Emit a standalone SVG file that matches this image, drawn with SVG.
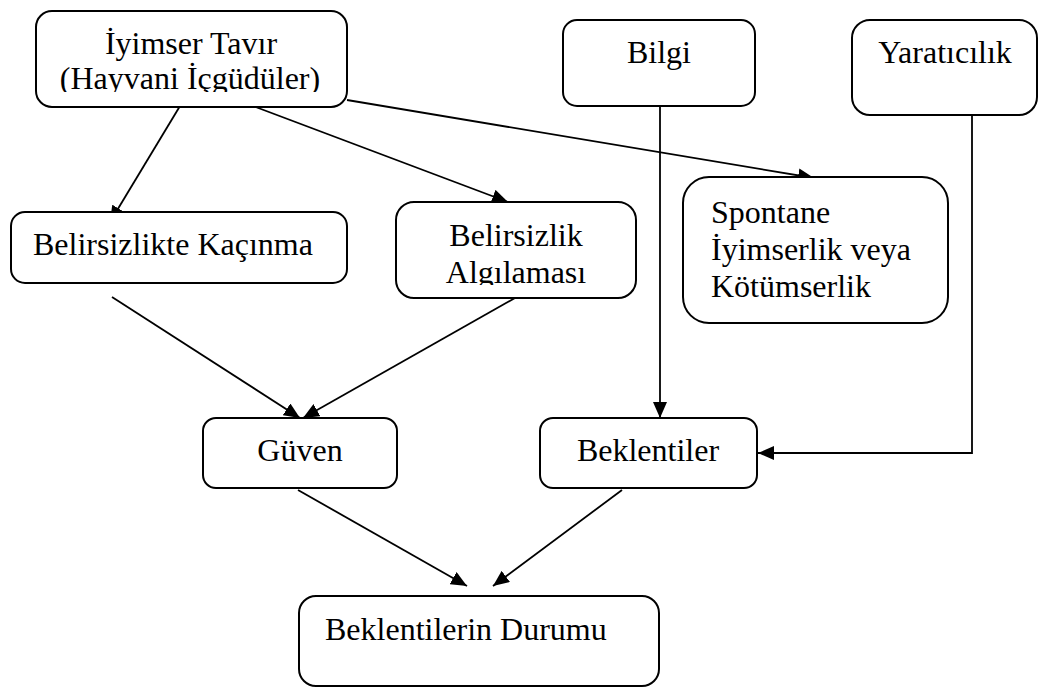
<svg xmlns="http://www.w3.org/2000/svg" width="1041" height="689" viewBox="0 0 1041 689">
<style>
.box{fill:#fff;stroke:#000;stroke-width:2}
.lbl{font-family:"Liberation Serif","Times New Roman",serif;font-size:32px;fill:#000}
.mid{text-anchor:middle}
.con{fill:none;stroke:#000;stroke-width:1.8}
</style>
<defs>
<marker id="ah" markerUnits="userSpaceOnUse" markerWidth="16" markerHeight="14" refX="16" refY="7" orient="auto" viewBox="0 0 16 14">
<path d="M0,0 L16,7 L0,14 z" fill="#000"/>
</marker>
<clipPath id="c1"><rect x="30" y="0" width="330" height="92"/></clipPath>
<clipPath id="c2"><rect x="390" y="200" width="260" height="85"/></clipPath>
</defs>
<rect width="1041" height="689" fill="#fff"/>
<g id="connectors">
<line class="con" x1="180" y1="106" x2="110" y2="222" marker-end="url(#ah)"/>
<line class="con" x1="253" y1="106" x2="508" y2="202" marker-end="url(#ah)"/>
<line class="con" x1="347" y1="100" x2="814" y2="178" marker-end="url(#ah)"/>
<line class="con" x1="660" y1="106" x2="660" y2="418" marker-end="url(#ah)"/>
<polyline class="con" points="972,115 972,453 758,453" marker-end="url(#ah)"/>
<line class="con" x1="112" y1="297" x2="300" y2="418" marker-end="url(#ah)"/>
<line class="con" x1="515" y1="298" x2="303" y2="418" marker-end="url(#ah)"/>
<line class="con" x1="298" y1="490" x2="467" y2="586" marker-end="url(#ah)"/>
<line class="con" x1="622" y1="490" x2="493" y2="586" marker-end="url(#ah)"/>
</g>
<g id="n-iyimser">
<rect class="box" x="36" y="11" width="311" height="96" rx="16"/>
<g clip-path="url(#c1)">
<text class="lbl mid" x="191" y="54">İyimser Tavır</text>
<text class="lbl mid" x="190" y="89">(Hayvani İçgüdüler)</text>
</g>
</g>
<g id="n-bilgi">
<rect class="box" x="563" y="20" width="192" height="86" rx="14"/>
<text class="lbl mid" x="659" y="63">Bilgi</text>
</g>
<g id="n-yaraticilik">
<rect class="box" x="852" y="20" width="185" height="95" rx="18"/>
<text class="lbl mid" x="945" y="63">Yaratıcılık</text>
</g>
<g id="n-kacinma">
<rect class="box" x="11" y="212" width="336" height="71" rx="14"/>
<text class="lbl" x="33" y="255">Belirsizlikte Kaçınma</text>
</g>
<g id="n-algilama">
<rect class="box" x="396" y="202" width="240" height="96" rx="18"/>
<g clip-path="url(#c2)">
<text class="lbl mid" x="516" y="246">Belirsizlik</text>
<text class="lbl mid" x="516" y="283">Algılaması</text>
</g>
</g>
<g id="n-spontane">
<rect class="box" x="683" y="177" width="265" height="146" rx="26"/>
<text class="lbl" x="711" y="223">Spontane</text>
<text class="lbl" x="711" y="260">İyimserlik veya</text>
<text class="lbl" x="711" y="297">Kötümserlik</text>
</g>
<g id="n-guven">
<rect class="box" x="203" y="418" width="194" height="70" rx="13"/>
<text class="lbl mid" x="300" y="461">Güven</text>
</g>
<g id="n-beklentiler">
<rect class="box" x="540" y="418" width="217" height="70" rx="13"/>
<text class="lbl mid" x="648" y="461">Beklentiler</text>
</g>
<g id="n-durum">
<rect class="box" x="299" y="596" width="360" height="90" rx="17"/>
<text class="lbl" x="325" y="640">Beklentilerin Durumu</text>
</g>
</svg>
